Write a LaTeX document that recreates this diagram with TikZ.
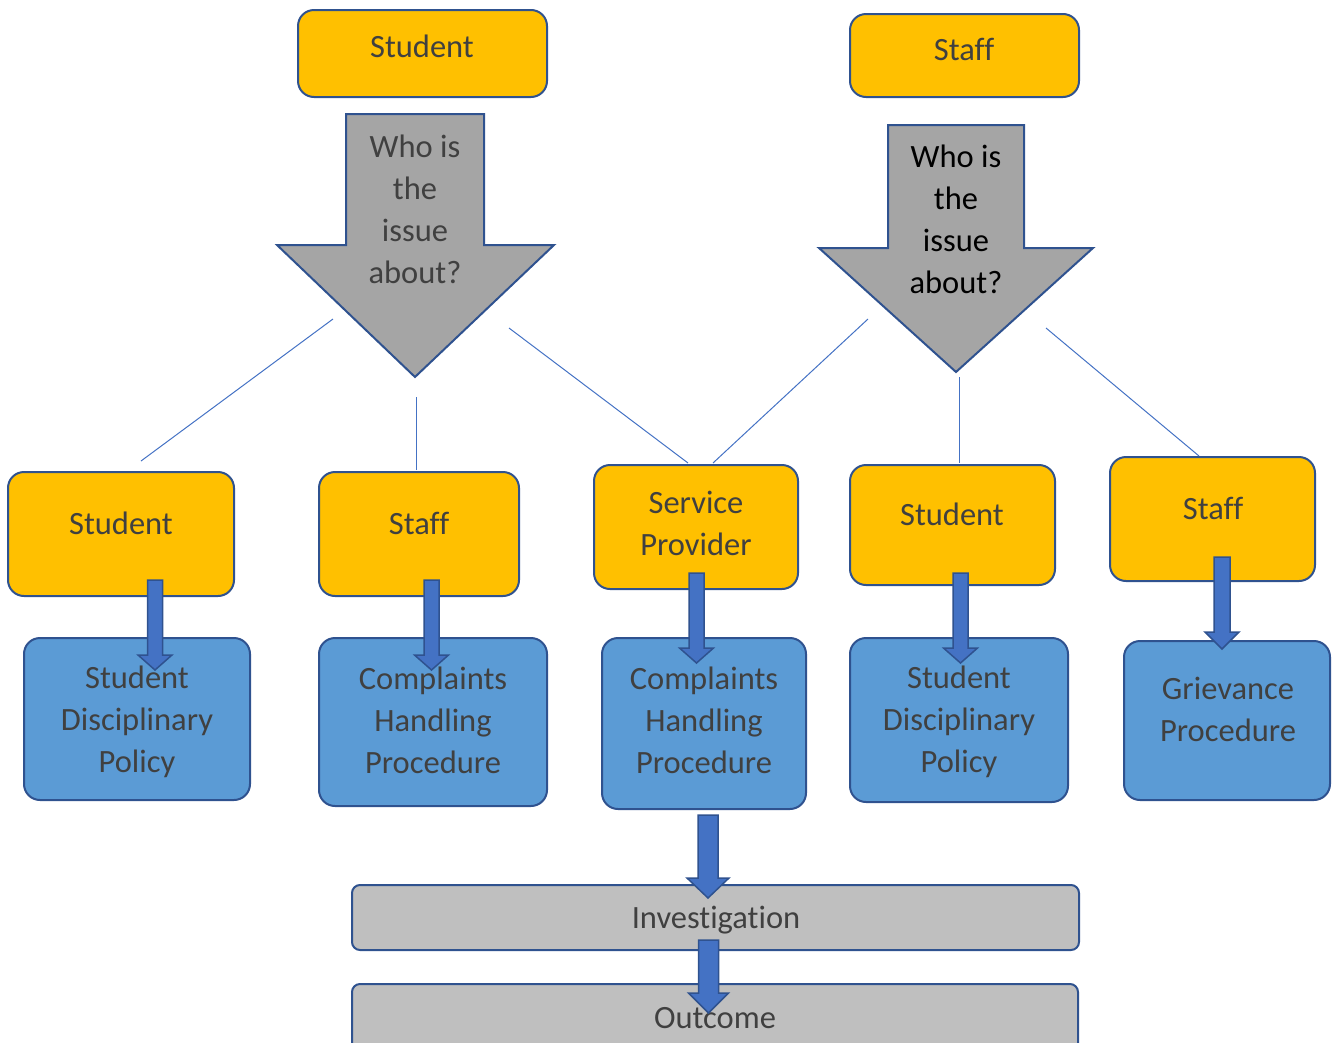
\documentclass[tikz,border=0pt]{standalone}
\usepackage{fontspec}
\setmainfont{Carlito}[Ligatures=NoCommon]
\definecolor{orng}{HTML}{FFC000}
\definecolor{bluebox}{HTML}{5B9BD5}
\definecolor{edge}{HTML}{2F528F}
\definecolor{lineblue}{HTML}{4472C4}
\definecolor{grayarrow}{HTML}{A5A5A5}
\definecolor{graybox}{HTML}{BFBFBF}
\definecolor{txtgray}{HTML}{404040}
\newcommand\barrow[6]{%
  \draw[blockarr] ({#1-#2},#3) -- ({#1+#2},#3) -- ({#1+#2},#4) -- ({#1+#5},#4) -- (#1,#6) -- ({#1-#5},#4) -- ({#1-#2},#4) -- cycle;}
\begin{document}
\begin{tikzpicture}[x=1pt,y=-1pt,
  boxbase/.style={draw=edge,line width=2pt,rounded corners=16pt,inner sep=0pt,outer sep=0pt},
  obox/.style={boxbase,fill=orng},
  bbox/.style={boxbase,fill=bluebox},
  gbox/.style={draw=edge,line width=2pt,rounded corners=8pt,fill=graybox,inner sep=0pt,outer sep=0pt},
  txt/.style={font=\fontsize{32.5}{42}\selectfont,text=txtgray,align=center,inner sep=0pt},
  thinline/.style={draw=lineblue,line width=1pt},
  bigarrow/.style={draw=edge,line width=2pt,fill=grayarrow,line join=miter},
  blockarr/.style={draw=edge,line width=1.5pt,fill=lineblue}]
\useasboundingbox (0,0) rectangle (1336,1042);

% top boxes
\node[obox,minimum width=249pt,minimum height=87pt] (tstu) at (422.5,53.5) {};
\node[txt] (tstut) at (422,46) {Student};
\node[obox,minimum width=229pt,minimum height=83pt] (tsta) at (964.5,55.5) {};
\node[txt] (tstat) at (964,49) {Staff};

% big gray arrows
\draw[bigarrow] (346,114) -- (484,114) -- (484,245) -- (554,245) -- (415,377) -- (277,245) -- (346,245) -- cycle;
\node[txt] (q1) at (415,209) {Who is\\the\\issue\\about?};
\draw[bigarrow] (888,125) -- (1024,125) -- (1024,248) -- (1093,248) -- (956,372) -- (819,248) -- (888,248) -- cycle;
\node[txt,text=black] (q2) at (956,219.5) {Who is\\the\\issue\\about?};

% orange boxes
\node[obox,minimum width=226pt,minimum height=124pt] (o1) at (121,534) {};
\node[txt] at (121,523) {Student};
\node[obox,minimum width=200pt,minimum height=124pt] (o2) at (419,534) {};
\node[txt] at (419,523) {Staff};
\node[obox,minimum width=204pt,minimum height=124pt] (o3) at (696,527) {};
\node[txt] at (696,523.5) {Service\\Provider};
\node[obox,minimum width=205pt,minimum height=120pt] (o4) at (952.5,525) {};
\node[txt] at (952,514) {Student};
\node[obox,minimum width=205pt,minimum height=124pt] (o5) at (1212.5,519) {};
\node[txt] at (1213,508) {Staff};

% blue boxes
\node[bbox,minimum width=226pt,minimum height=162pt] (b1) at (137,719) {};
\node[txt] at (137,722) {Student\\Disciplinary\\Policy};
\node[bbox,minimum width=228pt,minimum height=168pt] (b2) at (433,722) {};
\node[txt] at (433,720) {Complaints\\Handling\\Procedure};
\node[bbox,minimum width=204pt,minimum height=171pt] (b3) at (704,723.5) {};
\node[txt] at (704,720) {Complaints\\Handling\\Procedure};
\node[bbox,minimum width=218pt,minimum height=164pt] (b4) at (959,720) {};
\node[txt] at (959,722) {Student\\Disciplinary\\Policy};
\node[bbox,minimum width=206pt,minimum height=159pt] (b5) at (1227,720.5) {};
\node[txt] at (1228,709) {Grievance\\Procedure};

% gray boxes
\node[gbox,minimum width=727pt,minimum height=65pt] (g1) at (715.5,917.5) {};
\node[txt] at (716,920) {Investigation};
\node[gbox,minimum width=726pt,minimum height=76pt] (g2) at (715,1022) {};
\node[txt] at (715,1018) {Outcome};

% thin connector lines
\coordinate (l1a) at (333,319); \coordinate (l1b) at (141,461);
\coordinate (l2a) at (416,397); \coordinate (l2b) at (416,470);
\coordinate (l3a) at (509,328); \coordinate (l3b) at (688,463);
\coordinate (r1a) at (868,319); \coordinate (r1b) at (713,463);
\coordinate (r2a) at (959,377); \coordinate (r2b) at (959,463);
\coordinate (r3a) at (1046,328); \coordinate (r3b) at (1199,456);
\draw[thinline] (l1a) -- (l1b);
\draw[thinline] (l2a) -- (l2b);
\draw[thinline] (l3a) -- (l3b);
\draw[thinline] (r1a) -- (r1b);
\draw[thinline] (r2a) -- (r2b);
\draw[thinline] (r3a) -- (r3b);

% block arrows
\barrow{155}{7.5}{580}{655}{17}{670}
\barrow{431.5}{7.5}{580}{655}{17}{670}
\barrow{696.5}{7.5}{573}{648}{17}{663}
\barrow{960.5}{7.5}{573}{648}{17}{663}
\barrow{1222}{8}{557}{632}{17}{649}
\barrow{708}{10}{815}{878}{21}{898}
\barrow{708.5}{10}{940}{993}{20}{1013}
\end{tikzpicture}
\end{document}
